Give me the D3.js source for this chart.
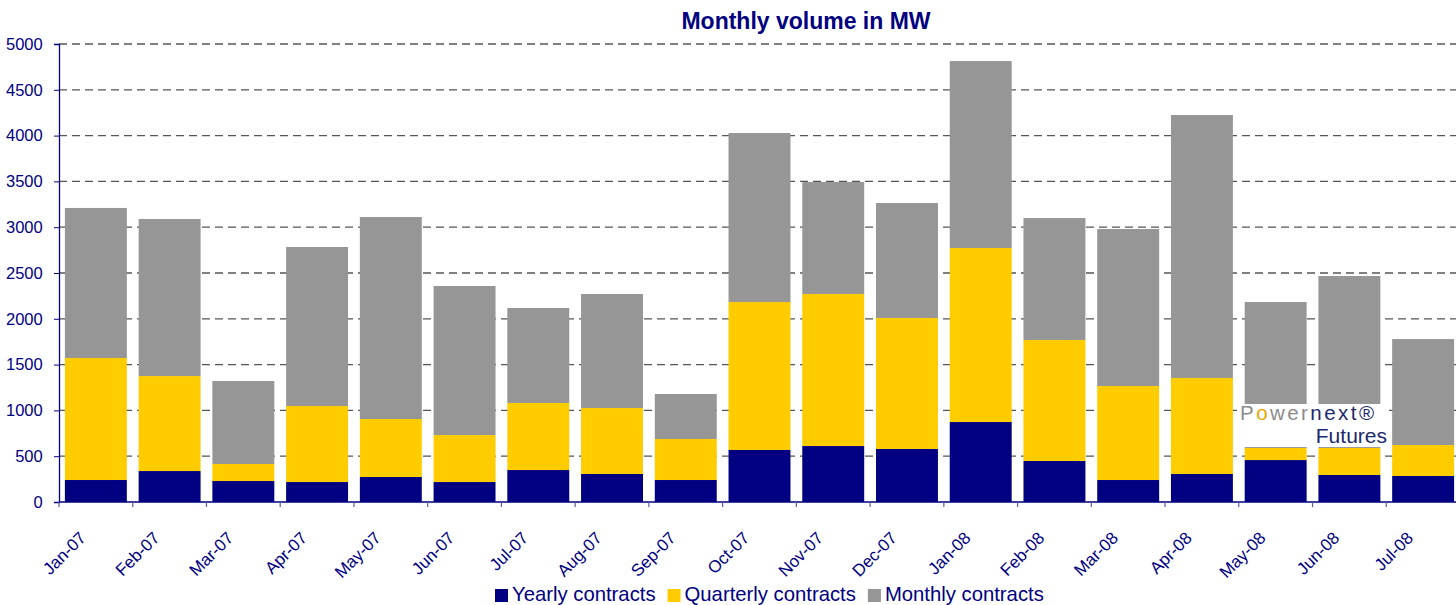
<!DOCTYPE html>
<html>
<head>
<meta charset="utf-8">
<script src="https://cdn.jsdelivr.net/npm/d3@7"></script>
<style>
  body { margin: 0; background: #fff; }
  svg text { font-family: "Liberation Sans", Arial, sans-serif; }
</style>
</head>
<body>
<div id="chart"></div>
<script>
const months = ['Jan-07', 'Feb-07', 'Mar-07', 'Apr-07', 'May-07', 'Jun-07', 'Jul-07', 'Aug-07', 'Sep-07',
  'Oct-07', 'Nov-07', 'Dec-07', 'Jan-08', 'Feb-08', 'Mar-08', 'Apr-08', 'May-08', 'Jun-08', 'Jul-08'];
const yearly = [240, 338, 229, 218, 273, 218, 349, 306, 240, 568, 611, 579, 873, 448, 240, 306, 458, 295, 284];
const quarterly = [1332, 1037, 186, 830, 633, 513, 732, 720, 448, 1615, 1660, 1430, 1900, 1321, 1026, 1048, 132, 295, 338];
const monthly = [1638, 1715, 906, 1736, 2205, 1627, 1037, 1245, 491, 1845, 1222, 1255, 2041, 1331, 1714, 2871, 1593, 1877, 1157];
const seriesNames = ['Yearly contracts', 'Quarterly contracts', 'Monthly contracts'];
const colors = ['#000080', '#FFCC00', '#969696'];
const yTicks = [0, 500, 1000, 1500, 2000, 2500, 3000, 3500, 4000, 4500, 5000];

const width = 1456, height = 605;
const plotLeft = 59, plotRight = 1460, plotTop = 44, plotBottom = 502;
const navy = '#000080';

const svg = d3.select('#chart').append('svg')
    .attr('width', width)
    .attr('height', height);

const x = d3.scaleBand().domain(months).range([plotLeft, plotRight]).paddingInner(0.16).paddingOuter(0.08);
const y = d3.scaleLinear().domain([0, 5000]).range([plotBottom, plotTop]);

const table = months.map((m, i) => ({month: m, yearly: yearly[i], quarterly: quarterly[i], monthly: monthly[i]}));
const stacked = d3.stack().keys(['yearly', 'quarterly', 'monthly'])(table);

// gridlines
svg.append('g')
  .selectAll('line')
  .data(yTicks.filter(d => d > 0))
  .enter()
  .append('line')
    .attr('x1', plotLeft)
    .attr('x2', width)
    .attr('y1', d => y(d))
    .attr('y2', d => y(d))
    .attr('stroke', '#555')
    .attr('stroke-width', 1.3)
    .attr('stroke-dasharray', '8,5');

// bars
svg.append('g')
  .selectAll('g')
  .data(stacked)
  .enter()
  .append('g')
    .attr('fill', (d, i) => colors[i])
  .selectAll('rect')
  .data(d => d)
  .enter()
  .append('rect')
    .attr('x', d => x(d.data.month))
    .attr('y', d => y(d[1]))
    .attr('width', x.bandwidth())
    .attr('height', d => y(d[0]) - y(d[1]));

// y axis
const yAxis = svg.append('g')
    .attr('transform', `translate(${plotLeft},0)`)
    .call(d3.axisLeft(y).tickValues(yTicks).tickFormat(d3.format('d')).tickSize(5).tickPadding(8));
yAxis.select('.domain').attr('stroke', navy).attr('stroke-width', 1.3);
yAxis.selectAll('.tick line').attr('stroke', navy);
yAxis.selectAll('.tick text')
    .attr('fill', navy)
    .style('font-size', '16.5px')
    .style('font-family', '"Liberation Sans", Arial, sans-serif')
    .attr('dx', '-0.2em');

// x axis line and ticks between categories
svg.append('line')
    .attr('x1', plotLeft).attr('x2', width)
    .attr('y1', plotBottom).attr('y2', plotBottom)
    .attr('stroke', navy).attr('stroke-width', 1.3);
svg.append('g')
  .selectAll('line')
  .data(months)
  .enter()
  .append('line')
    .attr('x1', d => x(d) - x.step() * x.paddingInner() / 2)
    .attr('x2', d => x(d) - x.step() * x.paddingInner() / 2)
    .attr('y1', plotBottom)
    .attr('y2', plotBottom + 5)
    .attr('stroke', '#5a5aa8')
    .attr('stroke-width', 1.2);

// x labels
svg.append('g')
  .selectAll('text')
  .data(months)
  .enter()
  .append('text')
    .attr('transform', d => `translate(${x(d) + x.bandwidth() / 2 - 9},539) rotate(-45)`)
    .attr('text-anchor', 'end')
    .attr('fill', navy)
    .style('font-size', '17px')
    .text(d => d);

// title
svg.append('text')
    .attr('x', 806)
    .attr('y', 29)
    .attr('text-anchor', 'middle')
    .attr('fill', navy)
    .style('font-size', '23px')
    .style('font-weight', 'bold')
    .text('Monthly volume in MW');

// legend
const legend = svg.append('g').attr('transform', 'translate(495,589)');
let lx = 0;
seriesNames.forEach((name, i) => {
  const item = legend.append('g').attr('transform', `translate(${lx},0)`);
  item.append('rect').attr('x', 0).attr('y', 0).attr('width', 13).attr('height', 13).attr('fill', colors[i]);
  const t = item.append('text')
      .attr('x', 17)
      .attr('y', 12)
      .attr('fill', navy)
      .style('font-size', '20.3px')
      .text(name);
  lx += 17 + t.node().getComputedTextLength() + 12;
});

// logo
const logo = svg.append('g').attr('transform', 'translate(1238,404)');
logo.append('rect').attr('width', 151).attr('height', 43).attr('fill', '#fff');
const l1 = logo.append('text')
    .attr('x', 2)
    .attr('y', 16)
    .attr('textLength', 134)
    .attr('lengthAdjust', 'spacing')
    .style('font-size', '20.5px');
l1.append('tspan').attr('fill', '#8c8c8c').text('P');
l1.append('tspan').attr('fill', '#E8A800').text('o');
l1.append('tspan').attr('fill', '#8c8c8c').text('wer');
l1.append('tspan').attr('fill', '#1c2a6b').text('next®');
logo.append('text')
    .attr('x', 149)
    .attr('y', 39)
    .attr('text-anchor', 'end')
    .attr('fill', '#1c2a6b')
    .style('font-size', '21px')
    .text('Futures');
</script>
</body>
</html>
